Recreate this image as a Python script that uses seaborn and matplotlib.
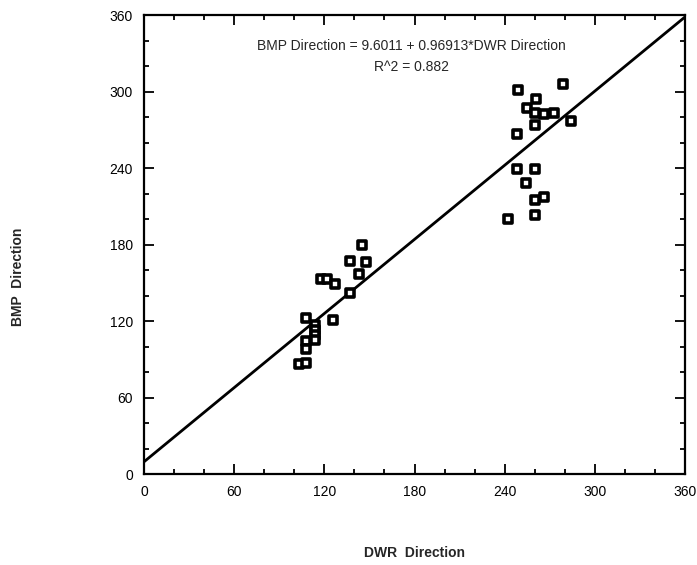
import matplotlib
matplotlib.use("Agg")
import matplotlib.pyplot as plt
import seaborn as sns
import numpy as np
import pandas as pd
from matplotlib.ticker import MultipleLocator

# Data
dwr_direction = [249, 279, 261, 255, 260, 266, 273, 284, 260, 248, 248, 260, 254, 266, 260, 242, 260,
                 145, 137, 148, 143, 118, 121.5, 127, 137, 108, 126, 114, 114, 114, 114, 108, 108, 103, 108]
bmp_direction = [301, 306, 294, 287, 283, 282, 283, 277, 274, 267, 239, 239, 228, 217, 215, 200, 203,
                 180, 167, 166, 157, 153, 153, 149, 142, 122, 121, 117, 113, 109, 105, 104, 98, 86, 87]
fit_intercept = 9.6011
fit_slope = 0.96913
fit_x = [0, 360]
r_squared = 0.882
x_ticks = [0, 60, 120, 180, 240, 300, 360]
y_ticks = [0, 60, 120, 180, 240, 300, 360]

sns.set_theme(style="ticks")
plt.rcParams['font.family'] = ['Liberation Sans', 'DejaVu Sans']

fig = plt.figure(figsize=(6.97, 5.65), dpi=100)
ax = fig.add_axes([0.2066, 0.161, 0.7762, 0.8124])

df = pd.DataFrame({"DWR": dwr_direction, "BMP": bmp_direction})
line_df = pd.DataFrame({"x": fit_x, "y": [fit_intercept + fit_slope * v for v in fit_x]})

sns.lineplot(data=line_df, x="x", y="y", ax=ax, color="black", linewidth=2.0)
sns.scatterplot(data=df, x="DWR", y="BMP", ax=ax, marker="s", s=34,
                facecolor="white", edgecolor="black", linewidth=2.6, zorder=3)

ax.set_xlim(0, 360)
ax.set_ylim(0, 360)
ax.set_xticks(x_ticks)
ax.set_yticks(y_ticks)
ax.xaxis.set_minor_locator(MultipleLocator(20))
ax.yaxis.set_minor_locator(MultipleLocator(20))
ax.tick_params(which="both", direction="in", top=True, right=True, colors="black",
               labelsize=10, width=1.3)
ax.tick_params(which="major", length=7, pad=8)
ax.tick_params(which="minor", length=3.5)
for sp in ax.spines.values():
    sp.set_visible(True)
    sp.set_linewidth(1.6)
    sp.set_color("black")

ax.set_xlabel("")
ax.set_ylabel("")
fig.text(0.595, 0.021, "DWR  Direction", ha="center", va="center", fontsize=10,
         fontweight="bold")
fig.text(0.026, 0.51, "BMP  Direction", ha="center", va="center", fontsize=10,
         fontweight="bold", rotation=90)

ax.text(178, 336, "BMP Direction = 9.6011 + 0.96913*DWR Direction", ha="center",
        va="center", fontsize=10)
ax.text(178, 319, f"R^2 = {r_squared}", ha="center", va="center", fontsize=10)

fig.savefig("out.png", dpi=100)
